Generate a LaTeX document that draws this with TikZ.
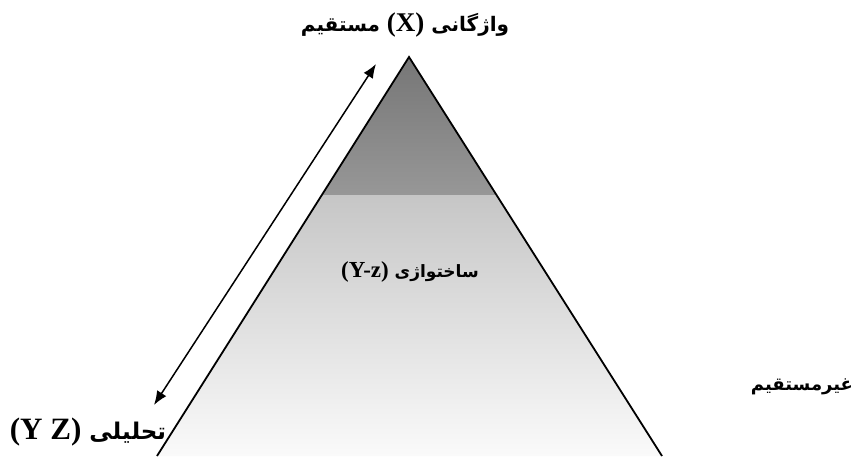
\documentclass[tikz,border=0pt]{standalone}
\usepackage{fontspec}
\setmainfont{Liberation Serif}
\newfontfamily\arabicfont[Script=Arabic]{DejaVu Sans}
\newfontfamily\latinfont[Scale=1.35]{Liberation Serif}
\TeXXeTstate=1
\usepackage{xcolor}
\usetikzlibrary{arrows.meta,positioning}
\definecolor{shadeTop}{HTML}{767676}
\definecolor{shadeMid}{HTML}{979797}
\definecolor{shadeLow}{HTML}{C6C6C6}
\definecolor{shadeEnd}{HTML}{FAFAFA}
\tikzset{
  levelname/.style={font=\arabicfont\bfseries, inner sep=0pt, text=black},
  side/.style={draw=black, line width=1.8pt},
  arrow/.style={{Latex[length=14pt,width=11pt]}-{Latex[length=14pt,width=11pt]}, line width=1.5pt}
}
\newcommand{\lat}[1]{\beginL{\latinfont\bfseries #1}\endL{}}

\begin{document}
\begin{tikzpicture}[x=1pt,y=1pt]
\useasboundingbox (0,0) rectangle (853,456);
\coordinate (apex) at (409,399);
\coordinate (baseL) at (157,0);
\coordinate (baseR) at (662,0);
% shaded pyramid
\begin{scope}
\clip (apex) -- (baseL) -- (baseR) -- cycle;
\shade[top color=shadeTop, bottom color=shadeMid] (150,261) rectangle (670,400);
\shade[top color=shadeLow, bottom color=shadeEnd] (150,0) rectangle (670,261);
\end{scope}
\draw[side] (baseL) -- (apex) -- (baseR);
% scale arrow
\coordinate (arrLow) at (154,51);
\coordinate (arrTop) at (376,392);
\draw[arrow] (arrLow) -- (arrTop);
% labels
\node[levelname, font=\arabicfont\bfseries\fontsize{20}{22}\selectfont] (lexical) at (405,431) {\beginR واژگانی \lat{(X)} مستقیم\endR};
\node[levelname, font=\arabicfont\bfseries\fontsize{17}{19}\selectfont] (morph) at (410,184) {\beginR ساختواژی \lat{(Y-z)}\endR};
\node[levelname, font=\arabicfont\bfseries\fontsize{23}{25}\selectfont] (analytic) at (88,24) {\beginR تحلیلی \lat{(Y Z)}\endR};
\node[levelname, font=\arabicfont\bfseries\fontsize{18}{20}\selectfont] (indirect) at (802,69) {\beginR غیرمستقیم\endR};
\end{tikzpicture}
\end{document}
